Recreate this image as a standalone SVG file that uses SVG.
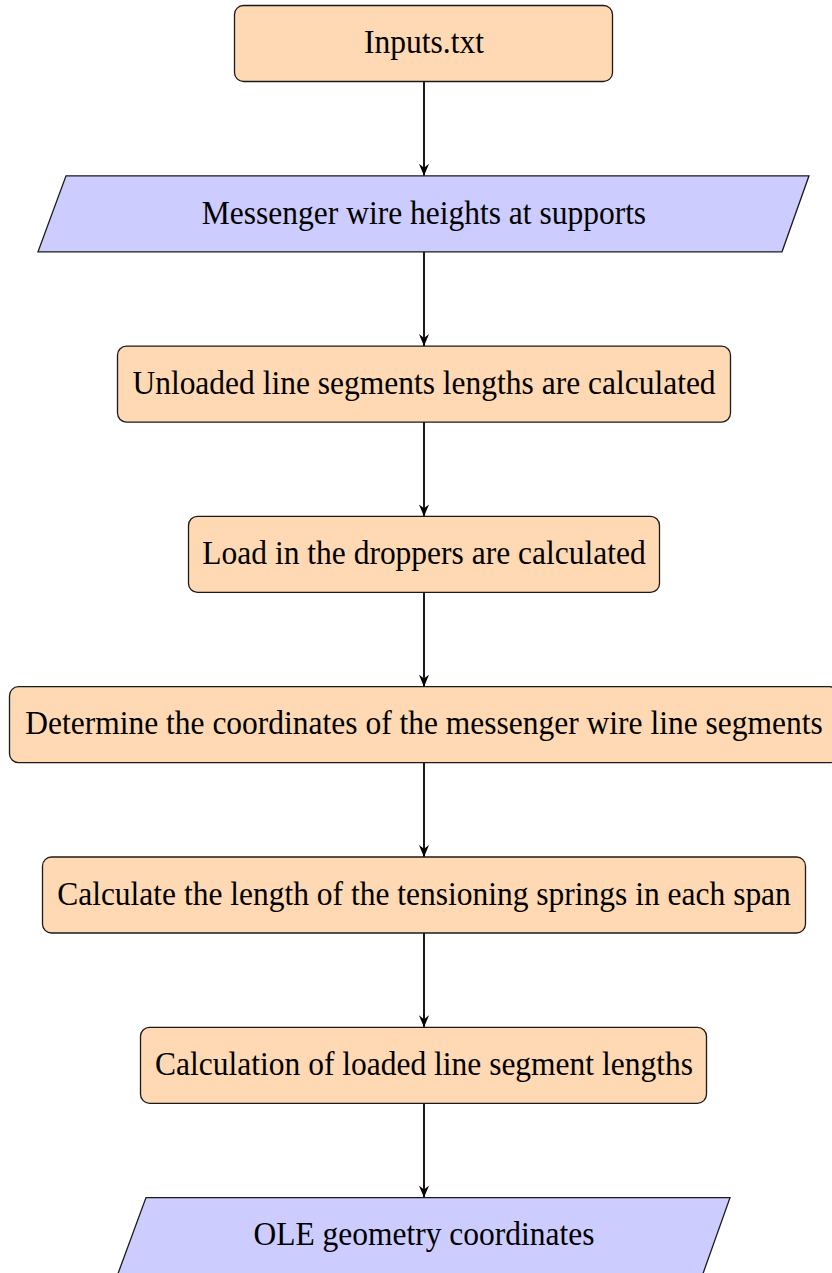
<svg xmlns="http://www.w3.org/2000/svg" width="832" height="1273" viewBox="0 0 832 1273">
  <style>
    .proc { fill: #FFD9B3; stroke: #1a1a1a; stroke-width: 1.3; }
    .io { fill: #CCCCFF; stroke: #1a1a1a; stroke-width: 1.3; }
    .lbl { font-family: 'Liberation Serif', 'Times New Roman', 'DejaVu Serif', serif; font-size: 31.5px; fill: #000; text-anchor: middle; }
    .edge { stroke: #000; stroke-width: 1.8; fill: none; marker-end: url(#tip); }
  </style>
  <defs>
    <marker id="tip" viewBox="0 0 10 10" refX="10" refY="5" markerWidth="12" markerHeight="12" markerUnits="userSpaceOnUse" orient="auto">
      <path d="M0,0.8 L10,5 L0,9.2 L3.2,5 Z" fill="#000"/>
    </marker>
  </defs>

  <g id="connectors">
    <line class="edge" x1="424" y1="81.5" x2="424" y2="175.8"/>
    <line class="edge" x1="424" y1="251.8" x2="424" y2="346.1"/>
    <line class="edge" x1="424" y1="422.1" x2="424" y2="516.4"/>
    <line class="edge" x1="424" y1="592.4" x2="424" y2="686.7"/>
    <line class="edge" x1="424" y1="762.7" x2="424" y2="857"/>
    <line class="edge" x1="424" y1="933" x2="424" y2="1027.3"/>
    <line class="edge" x1="424" y1="1103.3" x2="424" y2="1197.6"/>
  </g>

  <g id="inputs">
    <rect class="proc" x="234.5" y="5.5" width="378" height="76" rx="9"/>
    <text class="lbl" transform="translate(424,53) scale(1,1.07)">Inputs.txt</text>
  </g>

  <g id="heights">
    <polygon class="io" points="66,175.8 809,175.8 782,251.8 38,251.8"/>
    <text class="lbl" transform="translate(424,223.5) scale(1,1.07)">Messenger wire heights at supports</text>
  </g>

  <g id="unloaded">
    <rect class="proc" x="117.5" y="346.1" width="613" height="76" rx="9"/>
    <text class="lbl" transform="translate(424,393.8) scale(1,1.07)">Unloaded line segments lengths are calculated</text>
  </g>

  <g id="droppers">
    <rect class="proc" x="188.5" y="516.4" width="471" height="76" rx="9"/>
    <text class="lbl" transform="translate(424,564.1) scale(1,1.07)">Load in the droppers are calculated</text>
  </g>

  <g id="coordinates">
    <rect class="proc" x="9.5" y="686.7" width="829" height="76" rx="9"/>
    <text class="lbl" transform="translate(424,734.4) scale(1,1.07)">Determine the coordinates of the messenger wire line segments</text>
  </g>

  <g id="springs">
    <rect class="proc" x="42.5" y="857" width="763" height="76" rx="9"/>
    <text class="lbl" transform="translate(424,904.7) scale(1,1.07)">Calculate the length of the tensioning springs in each span</text>
  </g>

  <g id="loaded">
    <rect class="proc" x="140.5" y="1027.3" width="566" height="76" rx="9"/>
    <text class="lbl" transform="translate(424,1075) scale(1,1.07)">Calculation of loaded line segment lengths</text>
  </g>

  <g id="ole">
    <polygon class="io" points="146,1197.6 730,1197.6 703,1273.6 118,1273.6"/>
    <text class="lbl" transform="translate(424,1245.3) scale(1,1.07)">OLE geometry coordinates</text>
  </g>
</svg>
